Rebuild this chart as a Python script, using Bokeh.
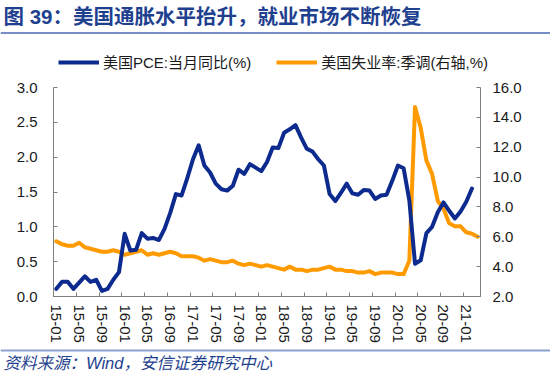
from bokeh.plotting import figure
from bokeh.models import (Range1d, LinearAxis, FixedTicker, Label, Legend, LegendItem,
                          Span, ColumnDataSource, NumeralTickFormatter)
from bokeh.embed import file_html
from bokeh.resources import INLINE

# ---------------- data ----------------
years = ["15", "16", "17", "18", "19", "20", "21"]
months = [f"{y}-{m:02d}" for y in years for m in range(1, 13)][:75]   # 15-01 .. 21-03

# 美国PCE:当月同比(%)  15-01 .. 21-02
pce = [0.11, 0.21, 0.21, 0.11, 0.20, 0.29, 0.21, 0.24, 0.08, 0.11, 0.24, 0.35,
       0.90, 0.66, 0.67, 0.91, 0.83, 0.84, 0.81, 0.97, 1.20, 1.47, 1.45, 1.70,
       1.97, 2.17, 1.88, 1.78, 1.62, 1.54, 1.52, 1.59, 1.82, 1.76, 1.90, 1.85,
       1.80, 1.93, 2.14, 2.13, 2.35, 2.40, 2.46, 2.28, 2.12, 2.08, 1.97, 1.88,
       1.47, 1.37, 1.49, 1.62, 1.48, 1.46, 1.53, 1.52, 1.40, 1.45, 1.46, 1.66,
       1.88, 1.84, 1.38, 0.47, 0.52, 0.91, 1.00, 1.21, 1.35, 1.23, 1.12, 1.22,
       1.36, 1.55]

# 美国失业率:季调(右轴,%)  15-01 .. 21-03
unemp = [5.7, 5.5, 5.4, 5.4, 5.6, 5.3, 5.2, 5.1, 5.0, 5.0, 5.1, 5.0,
         4.8, 4.9, 5.0, 5.1, 4.8, 4.9, 4.8, 4.9, 5.0, 4.9, 4.7, 4.7,
         4.7, 4.6, 4.4, 4.5, 4.4, 4.3, 4.3, 4.4, 4.2, 4.1, 4.2, 4.1,
         4.0, 4.1, 4.0, 3.9, 3.8, 4.0, 3.8, 3.8, 3.7, 3.8, 3.8, 3.9,
         4.0, 3.8, 3.8, 3.7, 3.7, 3.6, 3.6, 3.7, 3.5, 3.6, 3.6, 3.6,
         3.5, 3.5, 4.4, 14.7, 13.3, 11.1, 10.2, 8.4, 7.9, 6.9, 6.7, 6.7,
         6.3, 6.2, 6.0]

x_tick_labels = ["15-01", "15-05", "15-09", "16-01", "16-05", "16-09", "17-01",
                 "17-05", "17-09", "18-01", "18-05", "18-09", "19-01", "19-05",
                 "19-09", "20-01", "20-05", "20-09", "21-01"]
left_ticks = [0.0, 0.5, 1.0, 1.5, 2.0, 2.5, 3.0]
right_ticks = [2, 4, 6, 8, 10, 12, 14, 16]

title_text = "图 39：美国通胀水平抬升，就业市场不断恢复"
legend_labels = ["美国PCE:当月同比(%)", "美国失业率:季调(右轴,%)"]
source_text = "资料来源：Wind，安信证券研究中心"

# ---------------- styling ----------------
BLUE = "#0D2B8E"
ORANGE = "#FF9B00"
AXIS = "#7F7F7F"
TXT = "#1A1A1A"
TITLE_BLUE = "#1F3F8F"
SANS = "Liberation Sans, Noto Sans CJK SC"

W = 550
TOP_H, MAIN_H, BOT_H = 77, 271, 38
BL, BR, BT = 53, 70, 10
BB = MAIN_H - BT - 209


def bare(h, y0, y1):
    f = figure(width=W, height=h, output_backend="svg", toolbar_location=None,
               x_range=Range1d(0, W), y_range=Range1d(y0, y1),
               x_axis_type=None, y_axis_type=None)
    f.min_border = 0
    f.min_border_left = f.min_border_right = f.min_border_top = f.min_border_bottom = 0
    f.outline_line_color = None
    f.xgrid.visible = False
    f.ygrid.visible = False
    return f


NAN = float("nan")

# ---------------- header (title + legend) ----------------
top = bare(TOP_H, TOP_H, 0)          # y in page pixels, downward
top.add_layout(Label(x=3, y=15.5, text=title_text,
                     text_font="Liberation Sans, Noto Sans CJK SC",
                     text_font_style="bold", text_font_size="20.5px",
                     text_color=TITLE_BLUE, text_baseline="middle", text_align="left"))
top.add_layout(Span(location=32.5, dimension="width", line_color="#4A68B0",
                    line_width=1.3))
lg_pce = top.line(x=[NAN], y=[NAN], line_color=BLUE, line_width=4)
lg_un = top.line(x=[NAN], y=[NAN], line_color=ORANGE, line_width=4)
legend = Legend(items=[LegendItem(label=legend_labels[0], renderers=[lg_pce]),
                       LegendItem(label=legend_labels[1], renderers=[lg_un])],
                location=(58, TOP_H - 72), orientation="horizontal",
                glyph_width=41, glyph_height=16, label_height=16,
                label_standoff=4, spacing=25, padding=0, margin=0,
                border_line_color=None, background_fill_alpha=0,
                label_text_font=SANS, label_text_font_size="15px",
                label_text_color=TXT)
top.add_layout(legend, "center")

# ---------------- main chart ----------------
p = figure(width=W, height=MAIN_H, output_backend="svg", toolbar_location=None,
           x_range=Range1d(-0.5, len(months) - 0.5), y_range=Range1d(0, 3),
           min_border_left=BL, min_border_right=BR, min_border_top=BT,
           min_border_bottom=BB)
p.outline_line_color = None
p.xgrid.visible = False
p.ygrid.visible = False

src_pce = ColumnDataSource(dict(x=list(range(len(pce))), y=pce))
src_un = ColumnDataSource(dict(x=list(range(len(unemp))), y=unemp))

p.extra_y_ranges = {"right": Range1d(2, 16)}

p.line("x", "y", source=src_un, y_range_name="right", line_color=ORANGE,
       line_width=4, line_join="round", line_cap="round")
p.line("x", "y", source=src_pce, line_color=BLUE, line_width=4,
       line_join="round", line_cap="round")

label_pos = [i * 4 for i in range(len(x_tick_labels))]
xa = p.xaxis[0]
xa.ticker = FixedTicker(ticks=label_pos,
                        minor_ticks=[i - 0.5 for i in label_pos] + [len(months) - 0.5])
xa.major_label_overrides = {pos: lab for pos, lab in zip(label_pos, x_tick_labels)}
xa.major_label_orientation = "vertical"
xa.major_tick_in = 0
xa.major_tick_out = 0
xa.minor_tick_in = 4
xa.minor_tick_out = 0
xa.minor_tick_line_color = AXIS
xa.axis_line_color = AXIS
xa.major_label_standoff = 8
xa.major_label_text_font = SANS
xa.major_label_text_font_size = "15px"
xa.major_label_text_color = TXT

ya = p.yaxis[0]
ya.ticker = FixedTicker(ticks=left_ticks)
ya.formatter = NumeralTickFormatter(format="0.0")
ya.major_tick_in = 4
ya.major_tick_out = 0
ya.minor_tick_line_color = None
ya.axis_line_color = AXIS
ya.major_tick_line_color = AXIS
ya.major_label_standoff = 16
ya.major_label_text_font = SANS
ya.major_label_text_font_size = "15px"
ya.major_label_text_color = TXT

ra = LinearAxis(y_range_name="right", ticker=FixedTicker(ticks=right_ticks),
                formatter=NumeralTickFormatter(format="0.0"))
ra.major_tick_in = 4
ra.major_tick_out = 0
ra.minor_tick_line_color = None
ra.axis_line_color = AXIS
ra.major_tick_line_color = AXIS
ra.major_label_standoff = 12
ra.major_label_text_font = SANS
ra.major_label_text_font_size = "15px"
ra.major_label_text_color = TXT
p.add_layout(ra, "right")

# ---------------- footer ----------------
y0 = TOP_H + MAIN_H
bot = bare(BOT_H, y0 + BOT_H, y0)
bot.add_layout(Span(location=350, dimension="width", line_color="#8EA2D2",
                    line_width=2))
bot.add_layout(Label(x=3, y=362.5, text=source_text,
                     text_font="Liberation Sans, Noto Sans CJK SC",
                     text_font_style="italic", text_font_size="16.5px",
                     text_color="#1F3F8F", text_baseline="middle", text_align="left"))

open("out.html", "w").write(file_html([top, p, bot], INLINE))
